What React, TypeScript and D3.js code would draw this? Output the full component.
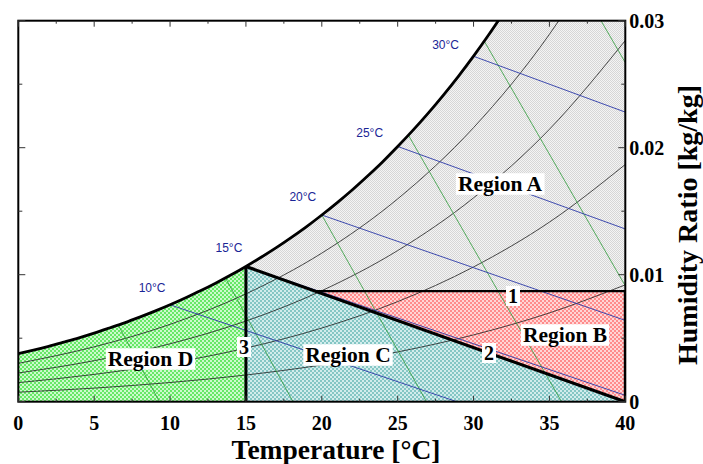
import React, { useEffect, useRef } from "react";
import * as d3 from "d3";

// ---------------- data ----------------
const tempTicks = [0, 5, 10, 15, 20, 25, 30, 35, 40];
const wTicks = [0, 0.01, 0.02, 0.03];
const wTickLabels = ["0", "0.01", "0.02", "0.03"];

// saturation curve (dry-bulb °C, humidity ratio kg/kg)
const satT = [0, 1, 2, 3, 4, 5, 6, 7, 8, 9, 10, 11, 12, 13, 14, 15, 16, 17, 18, 19, 20, 21, 22, 23, 24, 25, 26, 27, 28, 29, 30, 31, 32];
const satW = [0.00378, 0.00406, 0.00436, 0.00469, 0.00503, 0.0054, 0.0058, 0.00621, 0.00666, 0.00713, 0.00763, 0.00817, 0.00873, 0.00933, 0.00997, 0.01065, 0.01137, 0.01213, 0.01294, 0.01379, 0.0147, 0.01566, 0.01667, 0.01775, 0.01888, 0.02009, 0.02136, 0.0227, 0.02412, 0.02562, 0.02721, 0.02889, 0.03066];

// relative humidity curves (20, 40, 60, 80 %) sampled every 5 °C
const rhT = [0, 5, 10, 15, 20, 25, 30, 35, 40];
const rh20 = [0.00075, 0.00107, 0.00151, 0.0021, 0.00289, 0.00392, 0.00526, 0.00699, 0.0092];
const rh40 = [0.0015, 0.00215, 0.00303, 0.00422, 0.0058, 0.00788, 0.01061, 0.01414, 0.01868];
const rh60 = [0.00226, 0.00323, 0.00456, 0.00635, 0.00874, 0.0119, 0.01605, 0.02145, 0.02844];
const rh80 = [0.00302, 0.00432, 0.00609, 0.00849, 0.0117, 0.01597, 0.02158, 0.02893, 0.03851];
const rhCurves = [rh20, rh40, rh60, rh80];

// wet-bulb lines (blue)
const wbLabels = ["10°C", "15°C", "20°C", "25°C", "30°C"];
const wbStartT = [10, 15, 20, 25, 30];
const wbStartW = [0.00763, 0.01065, 0.0147, 0.0201, 0.0272];
const wbEndT = [28.9, 40, 40, 40, 40];
const wbEndW = [0, 0.0005, 0.0064, 0.0136, 0.0228];

// specific-volume lines (green)
const svStartT = [6.6, 13.65, 20.0, 25.7, 30.7, 38.4];
const svStartW = [0.006, 0.00975, 0.0147, 0.021, 0.0284, 0.03];
const svEndT = [9.3, 18.1, 26.9, 35.8, 40, 40];
const svEndW = [0, 0, 0, 0, 0.00912, 0.0267];

// process lines
const line1W = 0.0087; // line "1"
const line2Start = [15, 0.01065]; // line "2" (T, W)
const line2End = [40, 0];
const splitT = 15; // line "3"

// ---------------- layout ----------------
const W = 703;
const H = 464;
const X0 = 18.3;
const X1 = 625.3;
const Y0 = 401.7;
const Y1 = 20.7;

const wbLabelDx = [-18, -17, -19, -28, -28];
const wbLabelDy = [-17, -18, -18, -13, -11];

const SERIF = "'Liberation Serif', 'Times New Roman', Times, serif";
const SANS = "'Liberation Sans', Arial, Helvetica, sans-serif";

export default function App() {
  const ref = useRef<SVGSVGElement | null>(null);

  useEffect(() => {
    const svg = d3.select(ref.current);
    svg.selectAll("*").remove();

    const x = d3.scaleLinear().domain([0, 40]).range([X0, X1]);
    const y = d3.scaleLinear().domain([0, 0.03]).range([Y0, Y1]);

    const defs = svg.append("defs");
    defs
      .append("clipPath")
      .attr("id", "plotClip")
      .append("rect")
      .attr("x", X0)
      .attr("y", Y1)
      .attr("width", X1 - X0)
      .attr("height", Y0 - Y1);

    const mkPattern = (id: string, light: string, dark: string, cell: number) => {
      const p = defs
        .append("pattern")
        .attr("id", id)
        .attr("patternUnits", "userSpaceOnUse")
        .attr("width", cell * 2)
        .attr("height", cell * 2);
      p.append("rect").attr("width", cell * 2).attr("height", cell * 2).attr("fill", light);
      p.append("rect").attr("x", 0).attr("y", 0).attr("width", cell).attr("height", cell).attr("fill", dark);
      p.append("rect").attr("x", cell).attr("y", cell).attr("width", cell).attr("height", cell).attr("fill", dark);
    };
    mkPattern("patA", "#f4f4f4", "#d6d6d6", 1);
    mkPattern("patB", "#ffd6d6", "#ff8c8c", 2);
    mkPattern("patC", "#d2ecec", "#84c6c4", 2);
    mkPattern("patD", "#ccfacc", "#66e866", 2);

    const satPts: [number, number][] = satT.map((t, i) => [x(t), y(satW[i])]);
    const curve = d3.line<[number, number]>().curve(d3.curveMonotoneX);

    const i15 = satT.indexOf(splitT);
    const satLow = satPts.slice(0, i15 + 1);
    const satHigh = satPts.slice(i15);

    const tInt =
      line2Start[0] +
      ((line2Start[1] - line1W) / (line2Start[1] - line2End[1])) * (line2End[0] - line2Start[0]);

    const g = svg.append("g").attr("clip-path", "url(#plotClip)");

    // Region D
    g.append("path")
      .attr("d", curve(satLow) + `L${x(splitT)},${y(0)}L${x(0)},${y(0)}Z`)
      .attr("fill", "url(#patD)");
    // Region A
    const topW = satW[satW.length - 1];
    g.append("path")
      .attr(
        "d",
        curve(satHigh) +
          `L${x(40)},${y(topW)}L${x(40)},${y(line1W)}L${x(tInt)},${y(line1W)}L${x(line2Start[0])},${y(line2Start[1])}Z`
      )
      .attr("fill", "url(#patA)");
    // Region B
    g.append("path")
      .attr("d", `M${x(tInt)},${y(line1W)}L${x(40)},${y(line1W)}L${x(line2End[0])},${y(line2End[1])}Z`)
      .attr("fill", "url(#patB)");
    // Region C
    g.append("path")
      .attr(
        "d",
        `M${x(line2Start[0])},${y(line2Start[1])}L${x(line2End[0])},${y(line2End[1])}L${x(splitT)},${y(0)}Z`
      )
      .attr("fill", "url(#patC)");

    // RH curves
    rhCurves.forEach((arr) => {
      g.append("path")
        .attr("d", curve(rhT.map((t, i) => [x(t), y(arr[i])] as [number, number])))
        .attr("fill", "none")
        .attr("stroke", "#1e1e1e")
        .attr("stroke-width", 0.8);
    });

    // specific volume lines
    svStartT.forEach((t, i) => {
      g.append("line")
        .attr("x1", x(t))
        .attr("y1", y(svStartW[i]))
        .attr("x2", x(svEndT[i]))
        .attr("y2", y(svEndW[i]))
        .attr("stroke", "#2e9a3a")
        .attr("stroke-width", 0.8);
    });

    // wet-bulb lines
    wbStartT.forEach((t, i) => {
      g.append("line")
        .attr("x1", x(t))
        .attr("y1", y(wbStartW[i]))
        .attr("x2", x(wbEndT[i]))
        .attr("y2", y(wbEndW[i]))
        .attr("stroke", "#2c3aa8")
        .attr("stroke-width", 0.9);
    });

    // thick process lines
    g.append("line")
      .attr("x1", x(tInt))
      .attr("y1", y(line1W))
      .attr("x2", x(40))
      .attr("y2", y(line1W))
      .attr("stroke", "#000")
      .attr("stroke-width", 2.2);
    g.append("line")
      .attr("x1", x(40))
      .attr("y1", y(line1W))
      .attr("x2", x(40))
      .attr("y2", y(0))
      .attr("stroke", "#000")
      .attr("stroke-width", 3);
    g.append("line")
      .attr("x1", x(line2Start[0]))
      .attr("y1", y(line2Start[1]))
      .attr("x2", x(line2End[0]))
      .attr("y2", y(line2End[1]))
      .attr("stroke", "#000")
      .attr("stroke-width", 3.2);
    g.append("line")
      .attr("x1", x(splitT))
      .attr("y1", y(line2Start[1]))
      .attr("x2", x(splitT))
      .attr("y2", y(0))
      .attr("stroke", "#000")
      .attr("stroke-width", 3);
    g.append("path")
      .attr("d", curve(satPts))
      .attr("fill", "none")
      .attr("stroke", "#000")
      .attr("stroke-width", 2.8);

    // frame
    svg
      .append("rect")
      .attr("x", X0)
      .attr("y", Y1)
      .attr("width", X1 - X0)
      .attr("height", Y0 - Y1)
      .attr("fill", "none")
      .attr("stroke", "#000")
      .attr("stroke-width", 2);

    // ticks
    const ticksG = svg.append("g").attr("stroke", "#333").attr("stroke-width", 1);
    d3.range(0, 40.01, 2.5).forEach((t) => {
      const len = t % 5 === 0 ? 6 : 3;
      ticksG.append("line").attr("x1", x(t)).attr("x2", x(t)).attr("y1", Y1).attr("y2", Y1 + len);
      ticksG.append("line").attr("x1", x(t)).attr("x2", x(t)).attr("y1", Y0).attr("y2", Y0 - len);
    });
    d3.range(0, 0.03001, 0.005).forEach((w, i) => {
      const len = i % 2 === 0 ? 7 : 4;
      ticksG.append("line").attr("x1", X0).attr("x2", X0 + len).attr("y1", y(w)).attr("y2", y(w));
      ticksG.append("line").attr("x1", X1).attr("x2", X1 - len).attr("y1", y(w)).attr("y2", y(w));
    });

    // tick labels
    svg
      .append("g")
      .selectAll("text")
      .data(tempTicks)
      .join("text")
      .attr("x", (d) => x(d))
      .attr("y", 430)
      .attr("text-anchor", "middle")
      .attr("font-family", SERIF)
      .attr("font-weight", "bold")
      .attr("font-size", 20)
      .text((d) => String(d));

    svg
      .append("g")
      .selectAll("text")
      .data(wTicks)
      .join("text")
      .attr("x", X1 + 4)
      .attr("y", (d) => y(d) + 7)
      .attr("font-family", SERIF)
      .attr("font-weight", "bold")
      .attr("font-size", 20)
      .text((_d, i) => wTickLabels[i]);

    // axis titles
    svg
      .append("text")
      .attr("x", 336)
      .attr("y", 459)
      .attr("text-anchor", "middle")
      .attr("font-family", SERIF)
      .attr("font-weight", "bold")
      .attr("font-size", 27.5)
      .text("Temperature [°C]");
    svg
      .append("text")
      .attr("transform", "translate(697,225) rotate(-90)")
      .attr("text-anchor", "middle")
      .attr("font-family", SERIF)
      .attr("font-weight", "bold")
      .attr("font-size", 28)
      .text("Humidity Ratio [kg/kg]");

    // wet-bulb labels
    wbLabels.forEach((lab, i) => {
      svg
        .append("text")
        .attr("x", x(wbStartT[i]) + wbLabelDx[i])
        .attr("y", y(wbStartW[i]) + wbLabelDy[i] + 4)
        .attr("text-anchor", "middle")
        .attr("font-family", SANS)
        .attr("font-size", 12)
        .attr("fill", "#1a2596")
        .text(lab);
    });

    // boxed labels
    const boxed = (txt: string, cx: number, cy: number, size: number) => {
      const grp = svg.append("g");
      const rect = grp.append("rect").attr("fill", "#fff");
      const t = grp
        .append("text")
        .attr("x", cx)
        .attr("y", cy + size * 0.34)
        .attr("text-anchor", "middle")
        .attr("font-family", SERIF)
        .attr("font-weight", "bold")
        .attr("font-size", size)
        .text(txt);
      const bb = (t.node() as SVGTextElement).getBBox();
      rect
        .attr("x", bb.x - 2)
        .attr("y", cy - size * 0.5)
        .attr("width", bb.width + 4)
        .attr("height", size);
    };
    boxed("Region A", 500, 184, 21.5);
    boxed("Region B", 565, 335, 21.5);
    boxed("Region C", 348, 355, 21.5);
    boxed("Region D", 150.5, 359, 21.5);
    boxed("1", 513, 296, 20);
    boxed("2", 489, 353, 20);
    boxed("3", 244, 347, 20);
  }, []);

  return (
    <svg
      ref={ref}
      width={W}
      height={H}
      style={{ position: "absolute", left: 0, top: 0, background: "#fff" }}
    />
  );
}
